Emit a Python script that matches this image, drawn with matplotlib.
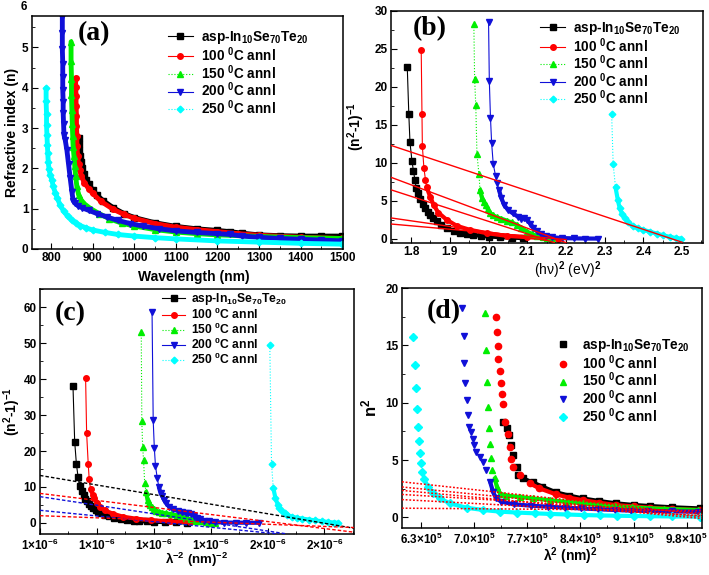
import matplotlib

matplotlib.use("Agg")
import matplotlib.pyplot as plt  # noqa: E402
import numpy as np  # noqa: E402
from matplotlib.ticker import MultipleLocator  # noqa: E402

plt.rcParams.update({
    "font.family": ["Liberation Sans", "DejaVu Sans"],
    "font.weight": "bold",
    "axes.labelweight": "bold",
    "mathtext.fontset": "custom",
    "mathtext.rm": "Liberation Sans:bold",
    "mathtext.it": "Liberation Sans:bold",
    "mathtext.bf": "Liberation Sans:bold",
    "axes.linewidth": 1.1,
    "xtick.direction": "in",
    "ytick.direction": "in",
    "xtick.major.size": 4,
    "ytick.major.size": 4,
    "xtick.minor.size": 2,
    "ytick.minor.size": 2,
    "xtick.labelsize": 8.5,
    "ytick.labelsize": 8.5,
})

LABELS = [r"asp-In$_{10}$Se$_{70}$Te$_{20}$", r"100 $^{0}$C annl", r"150 $^{0}$C annl",
          r"200 $^{0}$C annl", r"250 $^{0}$C annl"]
COLORS = ["#000000", "#ff0000", "#00ee00", "#1010d8", "#00ffff"]
MARKERS = ["s", "o", "^", "v", "D"]
LSTYLES = ["-", "-", ":", "-", ":"]

# ---- (a) refractive index vs wavelength
A_WL_BLK = [866, 867, 868, 870, 872, 875, 880, 885, 890, 900, 910, 925, 950, 975, 1000, 1050,
            1100, 1150, 1200, 1230, 1260, 1300, 1350, 1400, 1450, 1500]
A_N_BLK = [2.75, 2.6, 2.45, 2.3, 2.15, 2.0, 1.85, 1.72, 1.62, 1.46, 1.34, 1.2, 1.02, 0.88, 0.78,
           0.65, 0.56, 0.5, 0.46, 0.43, 0.39, 0.35, 0.33, 0.32, 0.32, 0.32]
A_WL_RED = [859, 859, 860, 860, 861, 861, 862, 862, 864, 866, 869, 873, 880, 890, 900, 920, 950,
            975, 1000, 1050, 1100, 1150, 1200, 1250, 1300, 1400, 1500]
A_N_RED = [4.24, 4.02, 3.8, 3.55, 3.3, 3.05, 2.8, 2.55, 2.3, 2.1, 1.95, 1.8, 1.64, 1.5, 1.38,
           1.18, 0.98, 0.86, 0.76, 0.63, 0.54, 0.48, 0.43, 0.38, 0.34, 0.29, 0.26]
A_WL_GRN = [848, 848, 849, 849, 850, 851, 852, 853, 855, 857, 859, 862, 866, 872, 880, 895, 915,
            940, 970, 1000, 1050, 1100, 1150, 1200, 1300, 1400, 1500]
A_N_GRN = [5.14, 4.66, 4.22, 3.82, 3.45, 3.1, 2.8, 2.54, 2.3, 2.05, 1.8, 1.55, 1.35, 1.22, 1.12,
           1.0, 0.88, 0.75, 0.64, 0.57, 0.48, 0.42, 0.38, 0.35, 0.31, 0.28, 0.26]
A_WL_BLU = [827, 827, 827, 828, 828, 828, 829, 829, 830, 831, 834, 838, 842, 846, 850, 853, 858,
            865, 875, 890, 910, 935, 960, 990, 1020, 1060, 1100, 1150, 1200, 1230, 1260, 1300,
            1350, 1400, 1450, 1500]
A_N_BLU = [5.76, 5.35, 4.96, 4.6, 4.27, 3.95, 3.65, 3.38, 3.1, 2.83, 2.7, 2.45, 2.1, 1.75, 1.42,
           1.2, 1.13, 1.07, 1.02, 0.96, 0.88, 0.79, 0.71, 0.63, 0.57, 0.5, 0.45, 0.41, 0.38,
           0.36, 0.32, 0.29, 0.26, 0.24, 0.22, 0.2]
A_WL_CYN = [788, 788, 789, 789, 790, 791, 792, 793, 795, 798, 802, 805, 810, 815, 822, 830, 840,
            850, 860, 870, 885, 900, 930, 960, 1000, 1050, 1100, 1200, 1300, 1400, 1500]
A_N_CYN = [3.99, 3.66, 3.35, 3.07, 2.82, 2.58, 2.37, 2.17, 1.98, 1.83, 1.71, 1.55, 1.4, 1.26,
           1.08, 0.94, 0.81, 0.71, 0.64, 0.58, 0.52, 0.47, 0.41, 0.36, 0.32, 0.28, 0.25, 0.2,
           0.17, 0.14, 0.12]

# ---- (b) (n^2-1)^-1 vs (hv)^2
B_X_BLK = [1.79, 1.794, 1.797, 1.802, 1.806, 1.81, 1.813, 1.818, 1.823, 1.83, 1.836, 1.843,
           1.849, 1.857, 1.866, 1.878, 1.892, 1.91, 1.927, 1.945, 1.96, 1.98, 2.0, 2.03, 2.06,
           2.09]
B_Y_BLK = [22.6, 16.4, 12.7, 10.3, 8.9, 7.7, 6.7, 6.0, 5.3, 4.6, 4.0, 3.5, 3.1, 2.7, 2.3, 1.85,
           1.4, 1.05, 0.82, 0.65, 0.52, 0.4, 0.3, 0.22, 0.15, 0.1]
B_X_RED = [1.826, 1.828, 1.829, 1.833, 1.837, 1.84, 1.849, 1.858, 1.87, 1.892, 1.918, 1.952,
           1.996, 2.047, 2.099, 2.15, 2.18]
B_Y_RED = [24.9, 16.4, 12.2, 9.3, 7.8, 6.8, 5.57, 4.47, 3.46, 2.5, 1.71, 1.18, 0.74, 0.39, 0.22,
           0.06, 0.02]
B_X_GRN = [1.962, 1.964, 1.967, 1.97, 1.975, 1.978, 1.983, 1.988, 1.993, 1.998, 2.004, 2.012,
           2.021, 2.033, 2.047, 2.06, 2.073, 2.085, 2.099, 2.112, 2.125, 2.14, 2.15, 2.165]
B_Y_GRN = [28.3, 21.1, 17.6, 11.2, 8.6, 6.4, 5.4, 4.9, 4.4, 3.9, 3.4, 3.1, 2.85, 2.65, 2.4, 2.15,
           1.85, 1.45, 0.96, 0.65, 0.39, 0.2, 0.09, 0.03]
B_X_BLU = [2.0, 2.002, 2.005, 2.008, 2.012, 2.018, 2.022, 2.027, 2.033, 2.04, 2.05, 2.063, 2.076,
           2.085, 2.092, 2.1, 2.108, 2.116, 2.125, 2.135, 2.148, 2.165, 2.19, 2.22, 2.25, 2.284]
B_Y_BLU = [28.6, 20.8, 15.9, 12.6, 9.9, 8.3, 7.4, 6.4, 5.4, 4.5, 3.8, 3.35, 2.9, 2.65, 2.7, 2.45,
           2.0, 1.45, 1.0, 0.65, 0.4, 0.2, 0.1, 0.06, 0.04, 0.03]
B_X_CYN = [2.318, 2.322, 2.328, 2.334, 2.339, 2.345, 2.352, 2.36, 2.372, 2.386, 2.4, 2.418,
           2.435, 2.452, 2.469, 2.485, 2.497]
B_Y_CYN = [16.5, 9.8, 6.8, 5.1, 4.0, 3.3, 2.7, 2.2, 1.7, 1.4, 1.18, 0.92, 0.68, 0.45, 0.25, 0.1,
           0.03]
# fitted straight lines: x0, y0, x1, y1
B_FITS = [(1.748, 12.3, 2.50, -0.45), (1.748, 8.1, 2.20, -0.5), (1.748, 6.45, 2.17, -0.5),
          (1.748, 2.75, 2.15, -0.2), (1.748, 1.95, 2.20, -0.1)]

# ---- (c) (n^2-1)^-1 vs lambda^-2
C_X_BLK = [1.158e-6, 1.161e-6, 1.164e-6, 1.167e-6, 1.170e-6, 1.1746e-6, 1.1772e-6, 1.179e-6,
           1.1824e-6, 1.1856e-6, 1.19e-6, 1.194e-6, 1.1986e-6, 1.2025e-6, 1.2077e-6, 1.2136e-6,
           1.2214e-6, 1.2305e-6, 1.2422e-6, 1.2533e-6, 1.265e-6, 1.2747e-6, 1.2877e-6,
           1.3007e-6, 1.3202e-6, 1.3398e-6, 1.3593e-6]
C_Y_BLK = [38.1, 22.6, 16.4, 12.7, 10.3, 8.9, 7.7, 6.7, 6.0, 5.3, 4.6, 4.0, 3.5, 3.1, 2.7, 2.3,
           1.85, 1.4, 1.05, 0.82, 0.65, 0.52, 0.4, 0.3, 0.22, 0.15, 0.1]
C_X_RED = [1.1802e-6, 1.182e-6, 1.1848e-6, 1.1865e-6, 1.189e-6, 1.193e-6, 1.195e-6, 1.201e-6,
           1.206e-6, 1.214e-6, 1.229e-6, 1.246e-6, 1.268e-6, 1.296e-6, 1.329e-6, 1.363e-6,
           1.397e-6]
C_Y_RED = [40.2, 24.9, 16.4, 12.2, 9.3, 7.8, 6.8, 5.57, 4.47, 3.46, 2.5, 1.71, 1.18, 0.74, 0.39,
           0.22, 0.05]
C_X_GRN = [1.278e-6, 1.279e-6, 1.2805e-6, 1.282e-6, 1.284e-6, 1.2865e-6, 1.289e-6, 1.292e-6,
           1.294e-6, 1.297e-6, 1.30e-6, 1.304e-6, 1.309e-6, 1.315e-6, 1.322e-6, 1.331e-6,
           1.34e-6, 1.348e-6, 1.356e-6, 1.365e-6, 1.374e-6, 1.382e-6, 1.392e-6, 1.398e-6,
           1.408e-6]
C_Y_GRN = [53.2, 28.3, 21.1, 17.6, 11.2, 8.6, 6.4, 5.4, 4.9, 4.4, 3.9, 3.4, 3.1, 2.85, 2.65, 2.4,
           2.15, 1.85, 1.45, 0.96, 0.65, 0.39, 0.2, 0.09, 0.03]
C_X_BLU = [1.297e-6, 1.299e-6, 1.301e-6, 1.303e-6, 1.306e-6, 1.309e-6, 1.312e-6, 1.315e-6,
           1.318e-6, 1.322e-6, 1.327e-6, 1.333e-6, 1.342e-6, 1.35e-6, 1.356e-6, 1.36e-6,
           1.366e-6, 1.371e-6, 1.376e-6, 1.382e-6, 1.388e-6, 1.397e-6, 1.408e-6, 1.424e-6,
           1.444e-6, 1.463e-6, 1.485e-6]
C_Y_BLU = [58.7, 28.6, 20.8, 15.9, 12.6, 9.9, 8.3, 7.4, 6.4, 5.4, 4.5, 3.8, 3.35, 2.9, 2.65, 2.7,
           2.45, 2.0, 1.45, 1.0, 0.65, 0.4, 0.2, 0.1, 0.06, 0.04, 0.03]
C_X_CYN = [1.504e-6, 1.507e-6, 1.510e-6, 1.514e-6, 1.518e-6, 1.521e-6, 1.525e-6, 1.53e-6,
           1.535e-6, 1.543e-6, 1.552e-6, 1.561e-6, 1.573e-6, 1.584e-6, 1.595e-6, 1.606e-6,
           1.616e-6, 1.624e-6]
C_Y_CYN = [49.5, 16.5, 9.8, 6.8, 5.1, 4.0, 3.3, 2.7, 2.2, 1.7, 1.4, 1.18, 0.92, 0.68, 0.45, 0.25,
           0.1, 0.03]
C_XTICKS = [1.1e-6, 1.2e-6, 1.3e-6, 1.4e-6, 1.5e-6, 1.6e-6]
C_XTICKLABELS = ["1×10$^{-6}$", "1×10$^{-6}$", "1×10$^{-6}$", "1×10$^{-6}$", "2×10$^{-6}$",
                 "2×10$^{-6}$"]
# dashed fit lines: x0, y0, x1, y1, colour
C_FITS = [(1.10e-6, 13.2, 1.652e-6, -1.5, "#000000"), (1.10e-6, 8.2, 1.652e-6, -2.6, "#ff0000"),
          (1.10e-6, 7.3, 1.535e-6, -3.1, "#1010d8"), (1.10e-6, 3.5, 1.52e-6, -3.1, "#1010d8"),
          (1.10e-6, 2.0, 1.652e-6, -1.3, "#ff0000")]

# ---- (d) n^2 vs lambda^2
D_X_BLK = [7.383e5, 7.43e5, 7.46e5, 7.49e5, 7.51e5, 7.56e5, 7.58e5, 7.64e5, 7.77e5, 7.9e5,
           8.08e5, 8.25e5, 8.43e5, 8.65e5, 8.87e5, 9.1e5, 9.31e5, 9.6e5, 9.97e5]
D_Y_BLK = [8.34, 7.76, 7.18, 6.3, 5.43, 4.4, 3.7, 3.4, 3.05, 2.67, 2.18, 1.9, 1.65, 1.42, 1.22,
           1.08, 0.99, 0.88, 0.78]
D_X_RED = [7.283e5, 7.296e5, 7.31e5, 7.32e5, 7.34e5, 7.35e5, 7.365e5, 7.38e5, 7.41e5, 7.44e5,
           7.47e5, 7.49e5, 7.51e5, 7.6e5, 7.73e5, 7.86e5, 8.08e5, 8.25e5, 8.43e5, 8.65e5, 8.87e5,
           9.1e5, 9.31e5, 9.6e5, 9.97e5]
D_Y_RED = [17.49, 16.2, 14.96, 13.8, 12.75, 11.73, 10.77, 9.9, 8.35, 7.24, 6.17, 5.1, 4.4, 3.7,
           2.97, 2.53, 2.0, 1.72, 1.5, 1.27, 1.07, 0.95, 0.84, 0.74, 0.64]
D_X_GRN = [7.142e5, 7.156e5, 7.17e5, 7.18e5, 7.195e5, 7.21e5, 7.22e5, 7.24e5, 7.27e5, 7.3e5,
           7.34e5, 7.42e5, 7.6e5, 7.77e5, 8.0e5, 8.21e5, 8.43e5, 8.64e5, 8.85e5, 9.08e5, 9.5e5,
           9.95e5]
D_Y_GRN = [17.84, 14.58, 11.82, 9.64, 7.81, 6.36, 5.14, 4.12, 3.4, 2.66, 2.08, 1.9, 1.78, 1.65,
           1.5, 1.36, 1.22, 1.07, 0.95, 0.86, 0.74, 0.64]
D_X_BLU = [6.835e5, 6.86e5, 6.87e5, 6.88e5, 6.91e5, 6.92e5, 6.93e5, 6.96e5, 6.98e5, 7.0e5,
           7.03e5, 7.08e5, 7.12e5, 7.16e5, 7.21e5, 7.25e5, 7.29e5, 7.36e5, 7.53e5, 7.75e5,
           7.97e5, 8.2e5, 8.41e5, 8.63e5, 8.85e5, 9.07e5, 9.29e5, 9.6e5, 9.95e5]
D_Y_BLU = [18.28, 15.8, 13.5, 11.7, 10.2, 8.92, 7.9, 7.45, 6.87, 6.29, 5.7, 5.27, 4.84, 4.11,
           3.1, 2.2, 1.65, 1.36, 1.13, 1.02, 0.93, 0.85, 0.78, 0.71, 0.64, 0.59, 0.55, 0.52,
           0.49]
D_X_CYN = [6.199e5, 6.221e5, 6.234e5, 6.243e5, 6.256e5, 6.274e5, 6.287e5, 6.30e5, 6.318e5,
           6.339e5, 6.396e5, 6.462e5, 6.55e5, 6.68e5, 6.9e5, 7.12e5, 7.34e5, 7.56e5, 7.8e5,
           8.0e5, 8.22e5, 8.44e5, 8.66e5, 8.88e5, 9.1e5, 9.31e5, 9.6e5, 9.97e5]
D_Y_CYN = [15.75, 13.28, 11.24, 9.44, 7.9, 6.65, 5.58, 4.7, 3.98, 3.31, 2.67, 2.09, 1.65, 1.22,
           0.84, 0.64, 0.5, 0.42, 0.35, 0.3, 0.25, 0.2, 0.17, 0.14, 0.12, 0.1, 0.08, 0.06]
D_XTICKS = [6.3e5, 7.0e5, 7.7e5, 8.4e5, 9.1e5, 9.8e5]
D_XTICKLABELS = ["6.3×10$^{5}$", "7.0×10$^{5}$", "7.7×10$^{5}$", "8.4×10$^{5}$", "9.1×10$^{5}$",
                 "9.8×10$^{5}$"]
D_FITS = [(6.05e5, 3.1, 1.0e6, 0.25), (6.05e5, 2.65, 1.0e6, 0.05), (6.05e5, 2.35, 1.0e6, -0.1),
          (6.05e5, 2.0, 1.0e6, 0.4), (6.05e5, 1.55, 1.0e6, 0.15), (6.05e5, 0.8, 1.0e6, 0.6)]


def draw_series(ax, xs, ys, band_max, band_lw, ms, with_line=True):
    for i, (x, y) in enumerate(zip(xs, ys)):
        x = np.asarray(x, dtype=float)
        y = np.asarray(y, dtype=float)
        c = COLORS[i]
        yb = np.where(y <= band_max, y, np.nan)
        ax.plot(x, yb, color=c, lw=band_lw, solid_capstyle="round", zorder=2 + i * 0.1)
        ax.plot(x, y, color=c, lw=0.8, ls=LSTYLES[i] if with_line else "none",
                marker=MARKERS[i], ms=ms * (0.85 if MARKERS[i] == "D" else 1), mfc=c, mec=c,
                label=LABELS[i], zorder=2.05 + i * 0.1)


def style(ax, xlabel, ylabel, ylab_x, xlab_y, xlab_x=0.5, xlab_size=10):
    ax.set_xlabel(xlabel, fontsize=xlab_size)
    ax.set_ylabel(ylabel, fontsize=10)
    ax.yaxis.set_label_coords(ylab_x, 0.5)
    ax.xaxis.set_label_coords(xlab_x, xlab_y)
    ax.tick_params(which="both", top=False, right=False, pad=2.5)


def legend(ax, x, y, spacing, size=9.8, handlelength=1.85, textpad=0.6):
    return ax.legend(loc="upper left", bbox_to_anchor=(x, y), frameon=False,
                     borderpad=0, borderaxespad=0, handlelength=handlelength,
                     handletextpad=textpad, labelspacing=spacing,
                     prop={"weight": "bold", "size": size})


def panel_tag(ax, x, y, text):
    ax.text(x, y, text, transform=ax.transAxes, ha="center", va="center",
            fontsize=20, fontweight="bold", family="Liberation Serif")


fig = plt.figure(figsize=(7.09, 5.75), dpi=100)
ax_a = fig.add_axes([0.0451, 0.5670, 0.4387, 0.4052])
ax_b = fig.add_axes([0.5515, 0.5774, 0.4400, 0.4035])
ax_c = fig.add_axes([0.0564, 0.0713, 0.4429, 0.4261])
ax_d = fig.add_axes([0.5670, 0.0817, 0.4231, 0.4174])

# (a)
draw_series(ax_a, [A_WL_BLK, A_WL_RED, A_WL_GRN, A_WL_BLU, A_WL_CYN],
            [A_N_BLK, A_N_RED, A_N_GRN, A_N_BLU, A_N_CYN], 99, 3.5, 4)
ax_a.set_xlim(754, 1502)
ax_a.set_ylim(0, 5.78)
ax_a.xaxis.set_major_locator(MultipleLocator(100))
ax_a.xaxis.set_minor_locator(MultipleLocator(50))
ax_a.yaxis.set_major_locator(MultipleLocator(1))
ax_a.yaxis.set_minor_locator(MultipleLocator(0.5))
ax_a.text(-0.017, 6, "6", transform=ax_a.get_yaxis_transform(), ha="right", va="center",
          fontsize=8.5, fontweight="bold", clip_on=False)
style(ax_a, "Wavelength (nm)", "Refractive index (n)", -0.042, -0.09, 0.52)
legend(ax_a, 0.437, 0.944, -0.06)
panel_tag(ax_a, 0.2, 0.925, "(a)")

# (b)
for x0, y0, x1, y1 in B_FITS:
    ax_b.plot([x0, x1], [y0, y1], color="#ff0000", lw=1.0, zorder=4)
draw_series(ax_b, [B_X_BLK, B_X_RED, B_X_GRN, B_X_BLU, B_X_CYN],
            [B_Y_BLK, B_Y_RED, B_Y_GRN, B_Y_BLU, B_Y_CYN], 7, 3.0, 4)
ax_b.set_xlim(1.748, 2.554)
ax_b.set_ylim(-0.55, 30)
ax_b.xaxis.set_major_locator(MultipleLocator(0.1))
ax_b.xaxis.set_minor_locator(MultipleLocator(0.05))
ax_b.yaxis.set_major_locator(MultipleLocator(5))
ax_b.yaxis.set_minor_locator(MultipleLocator(2.5))
style(ax_b, "(hν)$^{2}$ (eV)$^{2}$", "(n$^{2}$-1)$^{-1}$", -0.077, -0.069, 0.567)
ax_b.xaxis.label.set_fontweight("normal")
legend(ax_b, 0.478, 0.961, -0.08)
panel_tag(ax_b, 0.125, 0.925, "(b)")

# (c)
for x0, y0, x1, y1, c in C_FITS:
    ax_c.plot([x0, x1], [y0, y1], color=c, lw=1.0, ls=(0, (2.5, 1.5)), zorder=4)
draw_series(ax_c, [C_X_BLK, C_X_RED, C_X_GRN, C_X_BLU, C_X_CYN],
            [C_Y_BLK, C_Y_RED, C_Y_GRN, C_Y_BLU, C_Y_CYN], 11, 3.0, 4)
ax_c.set_xlim(1.10e-6, 1.652e-6)
ax_c.set_ylim(-3.1, 65.1)
ax_c.set_xticks(C_XTICKS)
ax_c.set_xticklabels(C_XTICKLABELS)
ax_c.xaxis.set_minor_locator(MultipleLocator(0.5e-7))
ax_c.yaxis.set_major_locator(MultipleLocator(10))
ax_c.yaxis.set_minor_locator(MultipleLocator(5))
style(ax_c, "λ$^{-2}$ (nm)$^{-2}$", "(n$^{2}$-1)$^{-1}$", -0.055, -0.07, 0.5, xlab_size=9.5)
legend(ax_c, 0.39, 0.99, -0.03, size=8.7, handlelength=1.9, textpad=0.5)
panel_tag(ax_c, 0.095, 0.9, "(c)")

# (d)
for x0, y0, x1, y1 in D_FITS:
    ax_d.plot([x0, x1], [y0, y1], color="#ff0000", lw=1.1, ls=(0, (1.2, 1.2)), zorder=5)
draw_series(ax_d, [D_X_BLK, D_X_RED, D_X_GRN, D_X_BLU, D_X_CYN],
            [D_Y_BLK, D_Y_RED, D_Y_GRN, D_Y_BLU, D_Y_CYN], 3.5, 3.0, 4.5, with_line=False)
ax_d.set_xlim(6.05e5, 1.0e6)
ax_d.set_ylim(-0.93, 20)
ax_d.set_xticks(D_XTICKS)
ax_d.set_xticklabels(D_XTICKLABELS)
ax_d.xaxis.set_minor_locator(MultipleLocator(3.5e4))
ax_d.yaxis.set_major_locator(MultipleLocator(5))
ax_d.yaxis.set_minor_locator(MultipleLocator(2.5))
style(ax_d, "λ$^{2}$ (nm)$^{2}$", "n$^{2}$", -0.077, -0.071, 0.56)
ax_d.yaxis.label.set_fontsize(12)
legend(ax_d, 0.517, 0.796, -0.07, handlelength=0.9, textpad=0.95)
panel_tag(ax_d, 0.14, 0.9, "(d)")

fig.savefig("out.png", dpi=100)
